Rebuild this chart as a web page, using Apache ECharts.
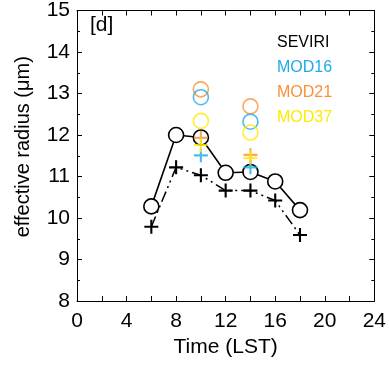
<!DOCTYPE html>
<html><head><meta charset="utf-8">
<script src="https://cdn.jsdelivr.net/npm/echarts@6/dist/echarts.min.js"></script>
<style>html,body{margin:0;padding:0;background:#fff}#c{width:389px;height:366px}</style>
</head><body><div id="c"></div>
<script>
const times = [6, 8, 10, 12, 14, 16, 18];
const seviriCircle = [10.28, 12.0, 11.94, 11.09, 11.11, 10.88, 10.19];
const seviriCross = [9.79, 11.22, 11.03, 10.66, 10.66, 10.42, 9.59];
const modisTimes = [10, 14];
const mod16Circle = [12.91, 12.32];
const mod21Circle = [13.10, 12.69];
const mod37Circle = [12.34, 12.06];
const mod16Cross = [11.51, 11.22];
const mod21Cross = [11.93, 11.52];
const mod37Cross = [11.76, 11.45];
const legendNames = ['SEVIRI', 'MOD16', 'MOD21', 'MOD37'];
const panelLabel = '[d]';

const BLACK = '#000', BLUE = '#1EAAE6', ORANGE = '#F7923A', YELLOW = '#FFEA00';
const FONT = '"Liberation Sans", Arial, Helvetica, sans-serif';
const PLUS = 'path://M8.5,0 H11.5 V8.5 H20 V11.5 H11.5 V20 H8.5 V11.5 H0 V8.5 H8.5 Z';

const pair = (xs, ys) => xs.map((x, i) => [x, ys[i]]);

function circles(name, xs, ys, color, fill) {
  return {
    name, type: 'scatter', data: pair(xs, ys), symbol: 'circle', symbolSize: 15,
    itemStyle: { color: fill, borderColor: color, borderWidth: 1.6 }, z: 5
  };
}
function crosses(name, xs, ys, color) {
  return {
    name, type: 'scatter', data: pair(xs, ys), symbol: PLUS, symbolSize: 14,
    itemStyle: { color: color }, z: 6
  };
}

const axisCommon = {
  axisLine: { show: true, onZero: false, lineStyle: { color: BLACK, width: 1 } },
  splitLine: { show: false },
  axisTick: { show: true, inside: true, length: 5, lineStyle: { color: BLACK } },
  minorTick: { show: true, splitNumber: 2, length: 3, lineStyle: { color: BLACK } }
};

const option = {
  animation: false,
  backgroundColor: '#fff',
  textStyle: { fontFamily: FONT },
  grid: { left: 77, right: 12, top: 5, bottom: 65 },
  xAxis: [
    Object.assign({}, axisCommon, {
      type: 'value', min: 0, max: 24, interval: 4, position: 'bottom',
      minorTick: { show: true, splitNumber: 2, length: 5, lineStyle: { color: BLACK } },
      axisLabel: { color: BLACK, fontSize: 21, margin: 10, fontFamily: FONT },
      name: 'Time (LST)', nameLocation: 'middle', nameGap: 32,
      nameTextStyle: { color: BLACK, fontSize: 21, fontFamily: FONT }
    }),
    Object.assign({}, axisCommon, {
      type: 'value', min: 0, max: 24, interval: 4, position: 'top',
      minorTick: { show: true, splitNumber: 2, length: 5, lineStyle: { color: BLACK } },
      axisLabel: { show: false }
    })
  ],
  yAxis: [
    Object.assign({}, axisCommon, {
      type: 'value', min: 8, max: 15, interval: 1, position: 'left',
      axisLabel: { color: BLACK, fontSize: 21, margin: 7, fontFamily: FONT },
      name: 'effective radius (\u03bcm)', nameLocation: 'middle', nameGap: 44,
      nameTextStyle: { color: BLACK, fontSize: 20, fontFamily: FONT, padding: [0, 0, 0, 18] }
    }),
    Object.assign({}, axisCommon, {
      type: 'value', min: 8, max: 15, interval: 1, position: 'right',
      axisLabel: { show: false }
    })
  ],
  graphic: [
    { type: 'text', left: 90, top: 15, style: { text: panelLabel, fill: BLACK, font: '21px ' + FONT } },
    { type: 'text', left: 277, top: 35, style: { text: legendNames[0], fill: BLACK, font: '16px ' + FONT } },
    { type: 'text', left: 277, top: 60, style: { text: legendNames[1], fill: BLUE, font: '16px ' + FONT } },
    { type: 'text', left: 277, top: 85, style: { text: legendNames[2], fill: ORANGE, font: '16px ' + FONT } },
    { type: 'text', left: 277, top: 110, style: { text: legendNames[3], fill: YELLOW, font: '16px ' + FONT } }
  ],
  series: [
    {
      name: legendNames[0], type: 'line', data: pair(times, seviriCross),
      symbol: PLUS, symbolSize: 14, itemStyle: { color: BLACK },
      lineStyle: { color: BLACK, width: 1.5, type: [11, 4, 2, 4, 2, 4] }, z: 3
    },
    {
      name: legendNames[0], type: 'line', data: pair(times, seviriCircle),
      symbol: 'circle', symbolSize: 15, showAllSymbol: true,
      itemStyle: { color: '#fff', borderColor: BLACK, borderWidth: 1.6 },
      lineStyle: { color: BLACK, width: 1.6 }, z: 4
    },
    circles(legendNames[2], modisTimes, mod21Circle, ORANGE, 'rgba(0,0,0,0)'),
    circles(legendNames[1], modisTimes, mod16Circle, BLUE, 'rgba(0,0,0,0)'),
    circles(legendNames[3], modisTimes, mod37Circle, YELLOW, 'rgba(0,0,0,0)'),
    crosses(legendNames[1], modisTimes, mod16Cross, BLUE),
    crosses(legendNames[2], modisTimes, mod21Cross, ORANGE),
    crosses(legendNames[3], modisTimes, mod37Cross, YELLOW)
  ]
};
const chart = echarts.init(document.getElementById('c'));
chart.setOption(option);
</script></body></html>
